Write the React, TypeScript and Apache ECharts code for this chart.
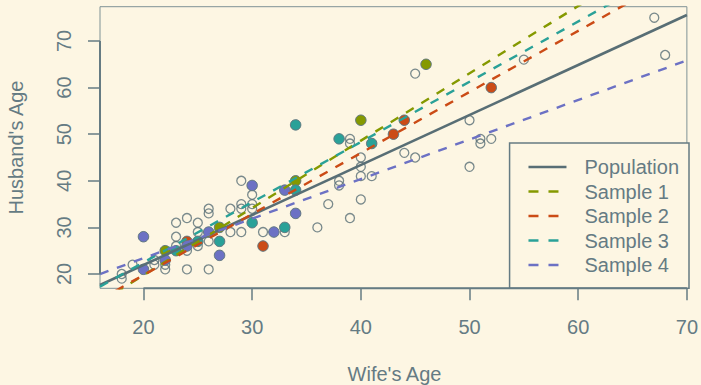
import React, { useEffect, useRef } from "react";
import * as echarts from "echarts";

const BG = "#fdf6e3";
const FG = "#657b83";
const DARK = "#586e75";
const FONT = "'Liberation Sans', Arial, sans-serif";

const xTicks = [20, 30, 40, 50, 60, 70];
const yTicks = [20, 30, 40, 50, 60, 70];
const xRange = [16, 70];
const yRange = [16.93, 77.36];

// Population (wife's age, husband's age)
const populationPoints: [number, number][] = [
  [67, 75], [68, 67], [55, 66], [45, 63], [50, 53], [50, 43], [51, 49], [51, 48], [52, 49],
  [44, 46], [45, 45], [39, 49], [39, 48], [40, 45], [40, 43], [40, 41], [41, 41], [40, 36],
  [38, 40], [38, 39], [37, 35], [39, 32], [36, 30],
  [29, 40], [30, 37], [30, 35], [29, 35], [28, 34], [29, 34], [30, 34], [28, 29], [29, 29],
  [31, 29], [33, 29], [26, 34], [26, 33], [23, 31], [24, 32], [25, 31], [23, 28], [25, 29],
  [26, 27], [25, 26], [24, 25], [23, 26], [24, 21], [26, 21], [22, 21], [22, 22], [21, 23],
  [21, 22], [19, 22], [18, 20], [18, 19], [27, 30], [34, 40], [40, 53], [46, 65], [52, 60],
  [44, 53], [43, 50], [31, 26], [24, 27], [34, 52], [38, 49], [41, 48], [34, 38], [30, 31],
  [33, 30], [27, 27], [23, 25], [20, 28], [20, 21], [22, 23], [24, 26], [26, 29], [27, 24],
  [30, 39], [33, 38], [34, 33], [32, 29], [22, 25], [25, 27],
];

const sample1Points: [number, number][] = [[22, 25], [27, 30], [34, 40], [40, 53], [46, 65]];
const sample2Points: [number, number][] = [[24, 27], [31, 26], [43, 50], [44, 53], [52, 60]];
const sample3Points: [number, number][] = [
  [23, 25], [25, 27], [27, 27], [30, 31], [33, 30], [34, 38], [34, 52], [38, 49], [41, 48],
];
const sample4Points: [number, number][] = [
  [20, 21], [20, 28], [22, 23], [24, 26], [26, 29], [27, 24], [30, 39], [32, 29], [33, 38], [34, 33],
];

const lineNames = ["Population", "Sample 1", "Sample 2", "Sample 3", "Sample 4"];
const lineColors = [DARK, "#859900", "#cb4b16", "#2aa198", "#6c71c4"];
const intercepts = [0.47, -9.19, -6.44, -3.39, 6.41];
const slopes = [1.073, 1.445, 1.31, 1.293, 0.849];

const samplePoints = [sample1Points, sample2Points, sample3Points, sample4Points];

export default function App() {
  const ref = useRef<HTMLDivElement>(null);

  useEffect(() => {
    document.body.style.margin = "0";
    document.body.style.background = BG;
    const chart = echarts.init(ref.current!, null, { renderer: "svg" });

    const scatterSeries: any[] = [
      {
        type: "scatter",
        name: "pop",
        data: populationPoints,
        symbol: "circle",
        symbolSize: 9,
        itemStyle: { color: "rgba(0,0,0,0)", borderColor: DARK, borderWidth: 1.3 },
        z: 2,
        silent: true,
      },
      ...samplePoints.map((pts, i) => ({
        type: "scatter",
        name: "pts" + (i + 1),
        data: pts,
        symbol: "circle",
        symbolSize: 10.5,
        itemStyle: { color: lineColors[i + 1], borderColor: FG, borderWidth: 1, opacity: 1 },
        z: 3,
        silent: true,
      })),
    ];

    const lineSeries: any[] = lineNames.map((name, i) => ({
      type: "line",
      name,
      data: xRange.map((x) => [x, intercepts[i] + slopes[i] * x]),
      symbol: "none",
      clip: true,
      lineStyle: {
        color: lineColors[i],
        width: i === 0 ? 2.6 : 2.4,
        type: i === 0 ? "solid" : [9, 9],
      },
      itemStyle: { color: lineColors[i] },
      z: 4,
      silent: true,
    }));

    const axisSegSeries: any[] = [
      {
        type: "line",
        name: "xaxisline",
        data: [[xTicks[0], yRange[0]], [xTicks[xTicks.length - 1], yRange[0]]],
        symbol: "none",
        clip: false,
        lineStyle: { color: FG, width: 2 },
        z: 5,
        silent: true,
      },
      {
        type: "line",
        name: "yaxisline",
        data: [[xRange[0], yTicks[0]], [xRange[0], yTicks[yTicks.length - 1]]],
        symbol: "none",
        clip: false,
        lineStyle: { color: FG, width: 2 },
        z: 5,
        silent: true,
      },
    ];

    const legendData = lineNames.map((name, i) =>
      i === 0
        ? { name, lineStyle: { type: "solid", width: 2.6 } }
        : { name, lineStyle: { type: [10, 10], width: 2.6 } }
    );

    chart.setOption({
      animation: false,
      backgroundColor: BG,
      textStyle: { fontFamily: FONT },
      grid: {
        left: 100,
        right: 12,
        top: 6.7,
        bottom: 96.7,
        show: true,
        borderColor: "#7f9295",
        borderWidth: 1,
        backgroundColor: "transparent",
      },
      xAxis: {
        type: "value",
        min: xRange[0],
        max: xRange[1],
        axisLine: { show: false },
        splitLine: { show: false },
        axisTick: {
          show: true,
          customValues: xTicks,
          length: 12,
          lineStyle: { color: FG, width: 1.5 },
        },
        axisLabel: {
          customValues: xTicks,
          color: FG,
          fontSize: 20,
          fontFamily: FONT,
          margin: 29,
        },
      },
      yAxis: {
        type: "value",
        min: yRange[0],
        max: yRange[1],
        axisLine: { show: false },
        splitLine: { show: false },
        axisTick: {
          show: true,
          customValues: yTicks,
          length: 12,
          lineStyle: { color: FG, width: 1.5 },
        },
        axisLabel: {
          customValues: yTicks,
          rotate: 90,
          color: FG,
          fontSize: 20,
          fontFamily: FONT,
          margin: 26,
        },
      },
      legend: {
        data: legendData,
        orient: "vertical",
        right: 12,
        bottom: 96.7,
        itemWidth: 38,
        itemHeight: 14,
        itemGap: 4.5,
        padding: [14, 10, 13.3, 17.6],
        borderColor: FG,
        borderWidth: 1.5,
        borderRadius: 0,
        backgroundColor: BG,
        selectedMode: false,
        itemStyle: { color: "rgba(0,0,0,0)", borderWidth: 0, opacity: 0 },
        textStyle: {
          color: FG,
          fontSize: 20,
          fontFamily: FONT,
          lineHeight: 20,
          padding: [0, 0, 0, 13],
        },
      },
      graphic: [
        {
          type: "text",
          x: 394.5,
          y: 374.2,
          style: {
            text: "Wife's Age",
            fill: FG,
            font: `20px ${FONT}`,
            align: "center",
            verticalAlign: "middle",
            textAlign: "center",
            textVerticalAlign: "middle",
          },
        },
        {
          type: "text",
          x: 16.2,
          y: 147.5,
          rotation: Math.PI / 2,
          style: {
            text: "Husband's Age",
            fill: FG,
            font: `20px ${FONT}`,
            align: "center",
            verticalAlign: "middle",
            textAlign: "center",
            textVerticalAlign: "middle",
          },
        },
      ],
      series: [...scatterSeries, ...lineSeries, ...axisSegSeries],
    });

    return () => chart.dispose();
  }, []);

  return <div ref={ref} style={{ width: 701, height: 385, background: BG }} />;
}
